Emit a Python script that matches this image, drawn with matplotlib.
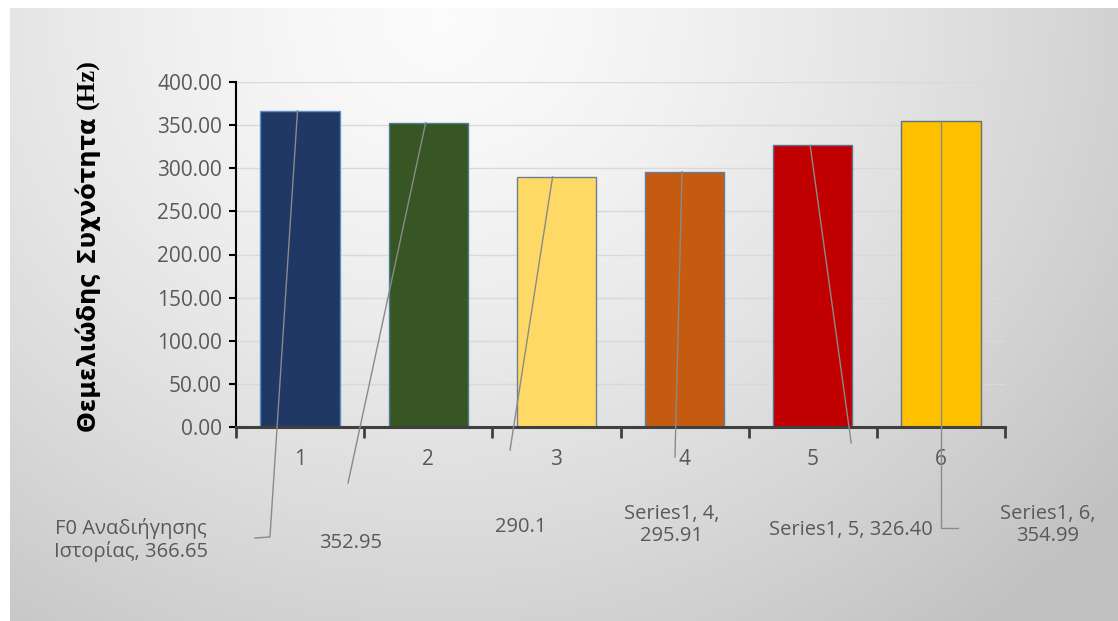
import matplotlib

matplotlib.use("Agg")
import matplotlib.pyplot as plt  # noqa: E402
import numpy as np  # noqa: E402

# Chart data
categories = ["1", "2", "3", "4", "5", "6"]
values = [366.65, 352.95, 290.1, 295.91, 326.40, 354.99]
bar_colors = ["#1f3864", "#375623", "#ffd966", "#c55a11", "#c00000", "#ffc000"]
edge_colors = ["#5b8fc7", "#4a7f9c", "#6f7f8f", "#5f7f9f", "#5f6f8f", "#5f7080"]
label_texts = [
    "F0 Αναδιήγησης\nΙστορίας, 366.65",
    "352.95",
    "290.1",
    "Series1, 4,\n295.91",
    "Series1, 5, 326.40",
    "Series1, 6,\n354.99",
]
y_ticks = [0, 50, 100, 150, 200, 250, 300, 350, 400]

# Label layout (data units): leader-line start offset, bend points, text anchor
leader_start_dx = [-0.02, -0.02, -0.03, -0.02, -0.02, 0.0]
leader_paths = [
    [(-0.235, -127.5), (-0.352, -128.7)],
    [(0.374, -64.9)],
    [(1.638, -26.7)],
    [(2.925, -34.8)],
    [(4.30, -18.5)],
    [(5.0, -117.0), (5.133, -117.0)],
]
label_pos = [(-1.32, -131.0), (0.39, -134.5), (1.724, -116.0),
             (2.90, -113.6), (4.30, -119.4), (5.835, -113.6)]

W, H = 1118, 621
fig = plt.figure(figsize=(W / 100, H / 100), dpi=100)
fig.patch.set_facecolor("white")

# Soft grey gradient panel behind the chart
bg = fig.add_axes([10 / W, 0, 1 - 10 / W, 1 - 8 / H], zorder=-10)
yy, xx = np.mgrid[0:613, 0:1108]
r = np.hypot(xx - 430, (yy - 10) * 1.1)
shade = np.clip(0.985 - 0.17 * (r / 700) ** 1.4, 0.76, 1.0)
bg.imshow(np.dstack([shade] * 3), aspect="auto", interpolation="bilinear")
bg.axis("off")

ax = fig.add_axes([236 / W, 1 - 427 / H, (1005 - 236) / W, (427 - 82) / H])
ax.patch.set_alpha(0)

x = np.arange(len(categories))
ax.bar(x, values, width=0.62, color=bar_colors, edgecolor=edge_colors,
       linewidth=1.0, zorder=2)

ax.set_xlim(-0.5, len(categories) - 0.5)
ax.set_ylim(0, 400)
ax.set_yticks(y_ticks)
ax.set_yticklabels([f"{v:.2f}" for v in y_ticks], fontsize=15,
                   color="#595959", family="Open Sans")
ax.yaxis.grid(True, color="#d9d9d9", linewidth=1.0, zorder=0)
ax.set_axisbelow(True)

# x ticks at category boundaries, labels at centres
ax.set_xticks(np.arange(len(categories) + 1) - 0.5)
ax.set_xticklabels([])
ax.set_xticks(x, minor=True)
ax.set_xticklabels(categories, minor=True, fontsize=15, color="#595959",
                   family="Open Sans")
ax.tick_params(axis="x", which="major", direction="out", length=8,
               width=2, color="#404040")
ax.tick_params(axis="x", which="minor", length=0, pad=16)
ax.tick_params(axis="y", direction="out", length=5, width=1.5,
               color="black", pad=5)

for side in ("top", "right"):
    ax.spines[side].set_visible(False)
ax.spines["left"].set_color("black")
ax.spines["left"].set_linewidth(1.5)
ax.spines["bottom"].set_color("#404040")
ax.spines["bottom"].set_linewidth(2.2)

# Data labels with leader lines
for i, v in enumerate(values):
    pts = [(x[i] + leader_start_dx[i], v)] + leader_paths[i]
    xs, ys = zip(*pts)
    ax.plot(xs, ys, color="#8a8a8a", linewidth=1.0, clip_on=False, zorder=3)
    ax.text(label_pos[i][0], label_pos[i][1], label_texts[i], ha="center",
            va="center", fontsize=14.5, color="#595959", family="Open Sans",
            linespacing=1.15, clip_on=False)

# Y axis title: sans bold part, then serif "(Hz)"
t1 = fig.text(88 / W, 1 - 432 / H, "Θεμελιώδης Συχνότητα", rotation=90,
              ha="center", va="bottom", fontsize=17.5, fontweight="bold",
              family="DejaVu Sans")
fig.canvas.draw()
ext = t1.get_window_extent()
fig.text(88 / W, (ext.y1 + 8) / H, "(Hz)", rotation=90, ha="center",
         va="bottom", fontsize=19, fontweight="bold", family="Liberation Serif")

fig.savefig("out.png", dpi=100)
plt.close(fig)
